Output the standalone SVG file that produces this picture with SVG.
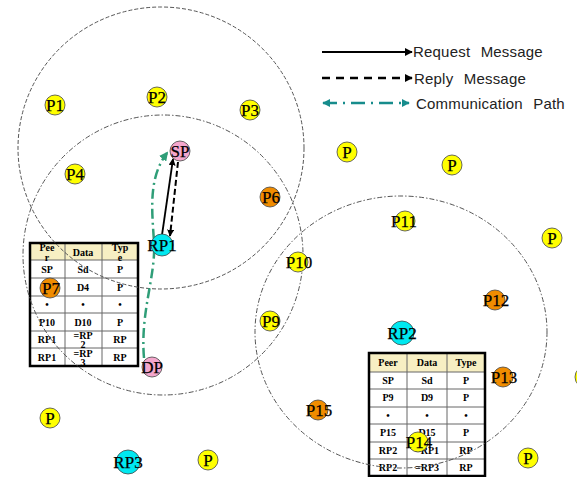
<svg xmlns="http://www.w3.org/2000/svg" width="577" height="477" viewBox="0 0 577 477">
<style>
.rng{fill:none;stroke:#555;stroke-width:1}
.dsh{stroke-dasharray:4 2}
.dd{stroke-dasharray:5 2 1.5 2}
.nd{stroke:#444;stroke-width:0.8}
.y{fill:#ffff00}.o{fill:#f08c00}.c{fill:#00e8f0}.k{fill:#f4a6cc}
.lb{font-family:"Liberation Serif",serif;font-size:17px;fill:#000;text-anchor:middle;stroke:#000;stroke-width:0.25}
.tb{font-family:"Liberation Serif",serif;font-size:10px;font-weight:bold;fill:#000;text-anchor:middle}
.lg{font-family:"Liberation Sans",sans-serif;font-size:15px;fill:#222;word-spacing:6px;letter-spacing:0.2px}
.tl{stroke:#666;stroke-width:1}
.to{fill:none;stroke:#000;stroke-width:2.5}
.hd{fill:#f7efc3}
</style>
<defs>
<marker id="ab" viewBox="0 0 10 10" refX="9" refY="5" markerWidth="8" markerHeight="8" markerUnits="userSpaceOnUse" orient="auto"><path d="M0,0L10,5L0,10z" fill="#000"/></marker>
<marker id="abs" viewBox="0 0 10 10" refX="9" refY="5" markerWidth="7" markerHeight="7" markerUnits="userSpaceOnUse" orient="auto"><path d="M0,0L10,5L0,10z" fill="#000"/></marker>
<marker id="at" viewBox="0 0 10 10" refX="9" refY="5" markerWidth="8" markerHeight="8" markerUnits="userSpaceOnUse" orient="auto-start-reverse"><path d="M0,0L10,5L0,10z" fill="#178c8c"/></marker>
<marker id="ag" viewBox="0 0 10 10" refX="8" refY="5" markerWidth="9" markerHeight="9" markerUnits="userSpaceOnUse" orient="auto"><path d="M0,0L10,5L0,10z" fill="#2f9e78"/></marker>
</defs>
<rect width="577" height="477" fill="#fff"/>

<g id="table-left">
<rect x="30" y="243" width="108" height="17" class="hd"/>
<rect x="30" y="260" width="108" height="106" fill="#fff"/>
<g class="tl">
<line x1="30" y1="260" x2="138" y2="260"/><line x1="30" y1="278" x2="138" y2="278"/><line x1="30" y1="296" x2="138" y2="296"/><line x1="30" y1="313" x2="138" y2="313"/><line x1="30" y1="331" x2="138" y2="331"/><line x1="30" y1="348" x2="138" y2="348"/>
<line x1="65" y1="243" x2="65" y2="366"/><line x1="102" y1="243" x2="102" y2="366"/>
</g>
<rect x="30" y="243" width="108" height="123" class="to"/>
<text class="tb" x="47" y="251">Pee</text><text class="tb" x="47" y="261">r</text>
<text class="tb" x="83" y="256">Data</text>
<text class="tb" x="120" y="251">Typ</text><text class="tb" x="120" y="261">e</text>
<text class="tb" x="47" y="273">SP</text><text class="tb" x="83" y="273">Sd</text><text class="tb" x="120" y="273">P</text>
<text class="tb" x="47" y="291">P4</text><text class="tb" x="83" y="291">D4</text><text class="tb" x="120" y="291">P</text>
<text class="tb" x="47" y="308">•</text><text class="tb" x="83" y="308">•</text><text class="tb" x="120" y="308">•</text>
<text class="tb" x="47" y="326">P10</text><text class="tb" x="83" y="326">D10</text><text class="tb" x="120" y="326">P</text>
<text class="tb" x="47" y="343">RP1</text><text class="tb" x="83" y="339">=RP</text><text class="tb" x="83" y="348">2</text><text class="tb" x="120" y="343">RP</text>
<text class="tb" x="47" y="361">RP1</text><text class="tb" x="83" y="357">=RP</text><text class="tb" x="83" y="366">3</text><text class="tb" x="120" y="361">RP</text>
</g>

<g id="table-right">
<rect x="369" y="353" width="116" height="19" class="hd"/>
<rect x="369" y="372" width="116" height="105" fill="#fff"/>
<g class="tl">
<line x1="369" y1="372" x2="485" y2="372"/><line x1="369" y1="389" x2="485" y2="389"/><line x1="369" y1="407" x2="485" y2="407"/><line x1="369" y1="424" x2="485" y2="424"/><line x1="369" y1="442" x2="485" y2="442"/><line x1="369" y1="459" x2="485" y2="459"/>
<line x1="407" y1="353" x2="407" y2="477"/><line x1="447" y1="353" x2="447" y2="477"/>
</g>
<rect x="369" y="353" width="116" height="123" class="to"/>
<text class="tb" x="388" y="366">Peer</text><text class="tb" x="427" y="366">Data</text><text class="tb" x="466" y="366">Type</text>
<text class="tb" x="388" y="384">SP</text><text class="tb" x="427" y="384">Sd</text><text class="tb" x="466" y="384">P</text>
<text class="tb" x="388" y="401">P9</text><text class="tb" x="427" y="401">D9</text><text class="tb" x="466" y="401">P</text>
<text class="tb" x="388" y="419">•</text><text class="tb" x="427" y="419">•</text><text class="tb" x="466" y="419">•</text>
<text class="tb" x="388" y="436">P15</text><text class="tb" x="427" y="436">D15</text><text class="tb" x="466" y="436">P</text>
<text class="tb" x="388" y="454">RP2</text><text class="tb" x="427" y="454">=RP1</text><text class="tb" x="466" y="454">RP</text>
<text class="tb" x="388" y="471">RP2</text><text class="tb" x="427" y="471">=RP3</text><text class="tb" x="466" y="471">RP</text>
</g>

<g id="ranges">
<ellipse class="rng dsh" cx="161" cy="148" rx="143" ry="141"/>
<ellipse class="rng dd" cx="163" cy="255" rx="140" ry="140"/>
<ellipse class="rng dd" cx="401" cy="332" rx="146" ry="136"/>
</g>

<g id="connectors">
<path d="M144,358 C140,312 156,276 154,242 C152,210 148,178 167,153" fill="none" stroke="#2f9e78" stroke-width="2.5" stroke-dasharray="10 4 2 4" marker-end="url(#ag)"/>
<line x1="162" y1="235" x2="173" y2="159" stroke="#000" stroke-width="1.8" marker-end="url(#abs)"/>
<line x1="178" y1="162" x2="170" y2="236" stroke="#000" stroke-width="2" stroke-dasharray="6 3" marker-end="url(#abs)"/>
</g>

<g id="legend">
<line x1="322" y1="52" x2="412" y2="52" stroke="#000" stroke-width="2" marker-end="url(#ab)"/>
<text class="lg" x="413" y="57">Request Message</text>
<line x1="322" y1="78" x2="412" y2="78" stroke="#000" stroke-width="2.5" stroke-dasharray="8 6" marker-end="url(#ab)"/>
<text class="lg" x="414" y="84">Reply Message</text>
<line x1="323" y1="103" x2="409" y2="103" stroke="#178c8c" stroke-width="2.5" stroke-dasharray="14 6 2 6" marker-start="url(#at)" marker-end="url(#at)"/>
<text class="lg" x="416" y="109">Communication Path</text>
</g>

<g id="n-P1"><circle class="nd y" cx="55" cy="105" r="10"/><text class="lb" x="55" y="111">P1</text></g>
<g id="n-P2"><circle class="nd y" cx="157" cy="97" r="10"/><text class="lb" x="157" y="103">P2</text></g>
<g id="n-P3"><circle class="nd y" cx="250" cy="110" r="10"/><text class="lb" x="250" y="116">P3</text></g>
<g id="n-P4"><circle class="nd y" cx="75" cy="174" r="10"/><text class="lb" x="75" y="180">P4</text></g>
<g id="n-SP"><circle class="nd k" cx="180" cy="151" r="10"/><text class="lb" x="180" y="157">SP</text></g>
<g id="n-P6"><circle class="nd o" cx="270" cy="197" r="10"/><text class="lb" x="271" y="203">P6</text></g>
<g id="n-Pa"><circle class="nd y" cx="347" cy="152" r="10"/><text class="lb" x="347" y="158">P</text></g>
<g id="n-Pb"><circle class="nd y" cx="452" cy="165" r="10"/><text class="lb" x="452" y="171">P</text></g>
<g id="n-P11"><circle class="nd y" cx="405" cy="221" r="10"/><text class="lb" x="404" y="227">P11</text></g>
<g id="n-Pc"><circle class="nd y" cx="552" cy="238" r="10"/><text class="lb" x="552" y="244">P</text></g>
<g id="n-RP1"><circle class="nd c" cx="162" cy="245" r="11"/><text class="lb" x="162" y="251">RP1</text></g>
<g id="n-P7"><circle class="nd o" cx="50" cy="288" r="10"/><text class="lb" x="51" y="294">P7</text></g>
<g id="n-P10"><circle class="nd y" cx="298" cy="262" r="10"/><text class="lb" x="299" y="268">P10</text></g>
<g id="n-P9"><circle class="nd y" cx="270" cy="321" r="10"/><text class="lb" x="271" y="327">P9</text></g>
<g id="n-DP"><circle class="nd k" cx="152" cy="367" r="10"/><text class="lb" x="152" y="373">DP</text></g>
<g id="n-P12"><circle class="nd o" cx="495" cy="300" r="10"/><text class="lb" x="496" y="306">P12</text></g>
<g id="n-RP2"><circle class="nd c" cx="402" cy="333" r="12"/><text class="lb" x="402" y="339">RP2</text></g>
<g id="n-P13"><circle class="nd o" cx="503" cy="377" r="10"/><text class="lb" x="504" y="383">P13</text></g>
<g id="n-Pd"><circle class="nd y" cx="586" cy="377" r="11"/></g>
<g id="n-P15"><circle class="nd o" cx="318" cy="410" r="10"/><text class="lb" x="319" y="416">P15</text></g>
<g id="n-Pe"><circle class="nd y" cx="50" cy="418" r="10"/><text class="lb" x="50" y="424">P</text></g>
<g id="n-P14"><circle class="nd y" cx="418" cy="442" r="10"/><text class="lb" x="419" y="448">P14</text></g>
<g id="n-RP3"><circle class="nd c" cx="128" cy="462" r="12"/><text class="lb" x="128" y="468">RP3</text></g>
<g id="n-Pf"><circle class="nd y" cx="208" cy="460" r="10"/><text class="lb" x="208" y="466">P</text></g>
<g id="n-Pg"><circle class="nd y" cx="528" cy="458" r="10"/><text class="lb" x="528" y="464">P</text></g>
</svg>
